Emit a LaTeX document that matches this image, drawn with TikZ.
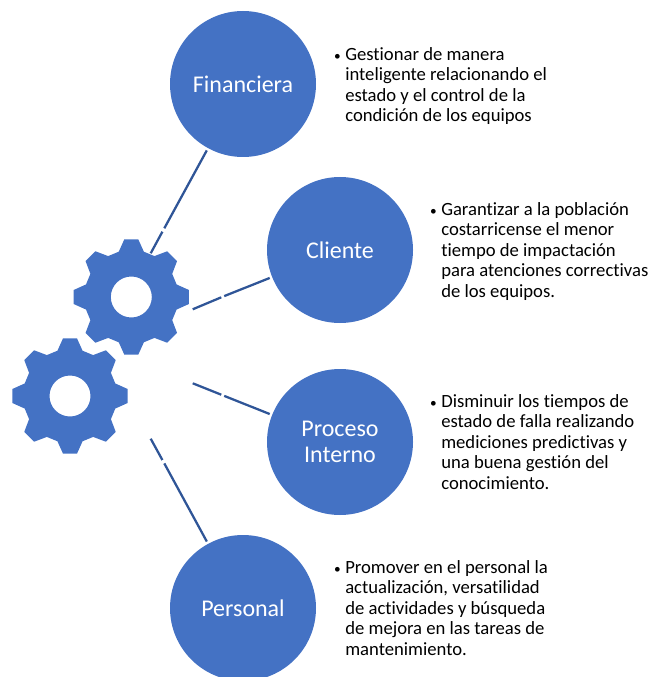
\documentclass[tikz,border=0pt]{standalone}
\usepackage{fontspec}
\setmainfont{Carlito}[Ligatures=NoCommon]
\definecolor{azul}{HTML}{4472C4}
\definecolor{azuloscuro}{HTML}{2F5597}
\tikzset{
  perspectiva/.style={circle,fill=azul,text=white,minimum size=109.5pt,inner sep=0pt,outer sep=0pt,align=center,font=\fontsize{18}{19.5}\selectfont},
  enlace/.style={color=azuloscuro,line width=1.7pt},
  objetivo/.style={anchor=north west,inner sep=0pt,align=left,font=\fontsize{14}{15.4}\selectfont},
}
\newcommand{\vineta}{\llap{{\fontsize{10}{10}\selectfont\textbullet}\hspace{3.4pt}}}
\begin{document}
\begin{tikzpicture}[x=0.75pt,y=-0.75pt]
  \useasboundingbox (0,0) rectangle (651,677);
  \node[perspectiva] (financiera) at (243,84) {Financiera};
  \node[perspectiva] (cliente) at (340,250) {Cliente};
  \node[perspectiva] (proceso) at (340,442) {Proceso\\Interno};
  \node[perspectiva] (personal) at (243,608) {Personal};
  \foreach \cx/\cy in {131.3/297,70/396}
  {
    \fill[azul,even odd rule,shift={(\cx,\cy)}] (-15.5:47)
      \foreach \a in {0,45,...,315} { -- (\a-15.5:47) -- (\a-6.9:58.1) -- (\a+6.9:58.1) -- (\a+15.5:47) } -- cycle
      (0,0) circle (20.5);
  }
  \coordinate (finA) at (164.3,228.3);
  \coordinate (finB) at (162.4,231.7);
  \coordinate (finC) at (150.7,253.3);
  \coordinate (cliA) at (224.2,296.1);
  \coordinate (cliB) at (221.3,297.3);
  \coordinate (cliC) at (192.7,309.3);
  \coordinate (proA) at (224.2,395.9);
  \coordinate (proB) at (221.3,394.7);
  \coordinate (proC) at (192.7,383.3);
  \coordinate (perA) at (164.3,463.4);
  \coordinate (perB) at (162.4,460);
  \coordinate (perC) at (150.7,438.7);
  \draw[enlace,shorten <=2pt] (financiera) -- (finA);
  \draw[enlace] (finB) -- (finC);
  \draw[enlace,shorten <=2pt] (cliente) -- (cliA);
  \draw[enlace] (cliB) -- (cliC);
  \draw[enlace,shorten <=2pt] (proceso) -- (proA);
  \draw[enlace] (proB) -- (proC);
  \draw[enlace,shorten <=2pt] (personal) -- (perA);
  \draw[enlace] (perB) -- (perC);
  \node[objetivo] (tfin) at (345,47) {\vineta Gestionar de manera\\inteligente relacionando el\\estado y el control de la\\condición de los equipos};
  \node[objetivo] (tcli) at (441,202) {\vineta Garantizar a la población\\costarricense el menor\\tiempo de impactación\\para atenciones correctivas\\de los equipos.};
  \node[objetivo] (tpro) at (441,394) {\vineta Disminuir los tiempos de\\estado de falla realizando\\mediciones predictivas y\\una buena gestión del\\conocimiento.};
  \node[objetivo] (tper) at (345,560) {\vineta Promover en el personal la\\actualización, versatilidad\\de actividades y búsqueda\\de mejora en las tareas de\\mantenimiento.};
\end{tikzpicture}
\end{document}
